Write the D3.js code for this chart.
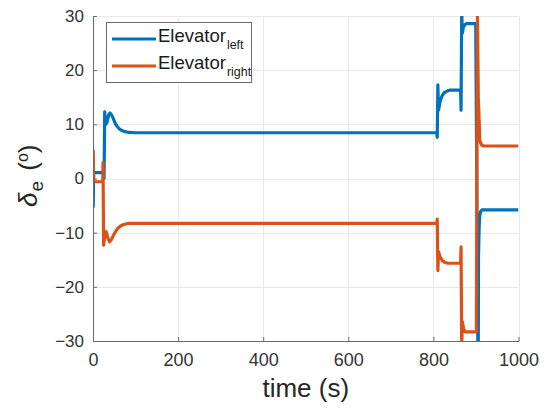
<!DOCTYPE html>
<html>
<head>
<meta charset="utf-8">
<script src="https://cdn.jsdelivr.net/npm/d3@7/dist/d3.min.js"></script>
<style>
  html, body { margin: 0; padding: 0; background: #fff; }
  svg { display: block; font-family: "Liberation Sans", Arial, Helvetica, sans-serif; }
</style>
</head>
<body>
<svg id="chart" width="550" height="408"></svg>
<script>
// Elevator deflection histories (time in s, deflection in deg)
const leftTime = [0, 0.5, 1.5, 25, 26, 27.5, 30, 33, 37, 40, 44, 48, 52, 57, 62, 68, 75, 85, 100,
  808, 809, 810.5, 812, 816, 820, 825, 831, 838, 864, 865, 866.5, 868, 870, 873, 877, 899.5,
  904.5, 905.5, 906, 907.5, 909, 911, 914, 1000];
const leftDeflection = [0, -5.2, 1.1, 1.1, 0, 12.3, 10, 10.4, 11.8, 12.1, 11.7, 11, 10.2, 9.6, 9.15, 8.85, 8.65, 8.5, 8.45,
  8.45, 7.6, 17.3, 12.6, 14.3, 15.2, 15.8, 16.1, 16.3, 16.3, 12.6, 31, 26.8, 27.8, 28.3, 28.6, 28.6,
  -31, -30, -14.4, -9, -6.8, -6.1, -5.8, -5.8];

const rightTime = [0, 0.5, 1.5, 23, 23.5, 25, 28, 31, 35, 39, 43, 48, 53, 58, 64, 72, 82,
  808, 809, 810.5, 812, 816, 821, 827, 835, 864, 865, 866.5, 868, 871, 875, 901,
  903.5, 905.5, 907, 909, 913, 918, 1000];
const rightDeflection = [0, 5.2, -0.6, -0.6, 3, -12.3, -10.2, -9.8, -11, -11.7, -11.3, -10.5, -9.8, -9.2, -8.8, -8.5, -8.3,
  -8.3, -7.5, -17, -13.5, -14.5, -15.2, -15.5, -15.65, -15.65, -12.6, -31, -26.4, -27.8, -28.3, -28.3,
  31, 14.8, 12, 7, 6.2, 6.0, 6.0];

const xTicks = [0, 200, 400, 600, 800, 1000];
const yTicks = [-30, -20, -10, 0, 10, 20, 30];
const seriesNames = ["left", "right"];
const seriesColors = ["#0072BD", "#D95319"];

const svg = d3.select("#chart");
const plot = { left: 93, right: 518.5, top: 16, bottom: 341 };

const x = d3.scaleLinear().domain([0, 1000]).range([plot.left, plot.right]);
const y = d3.scaleLinear().domain([-30, 30]).range([plot.bottom, plot.top]);

// grid
const grid = svg.append("g").attr("stroke", "#e8e8e8").attr("stroke-width", 1);
grid.selectAll(".gx").data(xTicks).join("line")
  .attr("x1", d => Math.round(x(d)) + 0.5).attr("x2", d => Math.round(x(d)) + 0.5)
  .attr("y1", plot.top).attr("y2", plot.bottom);
grid.selectAll(".gy").data(yTicks).join("line")
  .attr("y1", d => Math.round(y(d)) + 0.5).attr("y2", d => Math.round(y(d)) + 0.5)
  .attr("x1", plot.left).attr("x2", plot.right);

// clip region for the traces
svg.append("clipPath").attr("id", "plotClip").append("rect")
  .attr("x", plot.left).attr("y", plot.top)
  .attr("width", plot.right - plot.left).attr("height", plot.bottom - plot.top);

const line = d3.line().x(d => x(d[0])).y(d => y(d[1]));
const series = [
  d3.zip(leftTime, leftDeflection),
  d3.zip(rightTime, rightDeflection)
];
const traces = svg.append("g").attr("clip-path", "url(#plotClip)");
traces.selectAll("path").data(series).join("path")
  .attr("d", line)
  .attr("fill", "none")
  .attr("stroke", (d, i) => seriesColors[i])
  .attr("stroke-width", 3.2)
  .attr("stroke-linejoin", "round")
  .attr("stroke-linecap", "butt");

// axes (ticks point inward)
const xAxis = d3.axisBottom(x).tickValues(xTicks).tickFormat(d3.format("d"))
  .tickSizeInner(-4).tickSizeOuter(0).tickPadding(12);
const yAxis = d3.axisLeft(y).tickValues(yTicks).tickFormat(d3.format("d"))
  .tickSizeInner(-4).tickSizeOuter(0).tickPadding(9);

const gx = svg.append("g").attr("transform", `translate(0,${plot.bottom})`).call(xAxis);
const gy = svg.append("g").attr("transform", `translate(${plot.left},0)`).call(yAxis);
[gx, gy].forEach(g => {
  g.select(".domain").attr("stroke", "#6b6b6b").attr("stroke-width", 1);
  g.selectAll(".tick line").attr("stroke", "#6b6b6b");
  g.selectAll(".tick text").attr("fill", "#333").attr("font-size", 17)
    .attr("font-family", "'Liberation Sans', Arial, sans-serif");
});
gx.selectAll(".tick text").attr("font-size", 18);

// axis titles
svg.append("text")
  .attr("x", (plot.left + plot.right) / 2).attr("y", 397)
  .attr("text-anchor", "middle").attr("fill", "#262626").attr("font-size", 26)
  .text("time (s)");

const yl = svg.append("text")
  .attr("transform", "translate(37,207) rotate(-90)")
  .attr("fill", "#262626").attr("font-size", 26);
yl.append("tspan").attr("font-style", "italic").text("δ");
yl.append("tspan").attr("font-size", 19).attr("dy", 6).attr("dx", 1).text("e");
yl.append("tspan").attr("dy", -6).attr("dx", 3).text(" (");
yl.append("tspan").attr("font-size", 16).attr("dy", -9).text("o");
yl.append("tspan").attr("dy", 9).text(")");

// legend
const legend = svg.append("g");
legend.append("rect")
  .attr("x", 106.5).attr("y", 22.5).attr("width", 145).attr("height", 60)
  .attr("fill", "#fff").attr("stroke", "#6b6b6b").attr("stroke-width", 1);
const entries = legend.selectAll(".entry").data(seriesNames).join("g")
  .attr("transform", (d, i) => `translate(0,${39 + i * 27})`);
entries.append("line")
  .attr("x1", 112).attr("x2", 156).attr("y1", 0).attr("y2", 0)
  .attr("stroke", (d, i) => seriesColors[i]).attr("stroke-width", 3.2);
const lt = entries.append("text")
  .attr("x", 158).attr("y", 3).attr("fill", "#1a1a1a").attr("font-size", 18.5);
lt.append("tspan").text("Elevator");
lt.append("tspan").attr("font-size", 12.5).attr("dy", 7).attr("dx", 1).text(d => d);
</script>
</body>
</html>
